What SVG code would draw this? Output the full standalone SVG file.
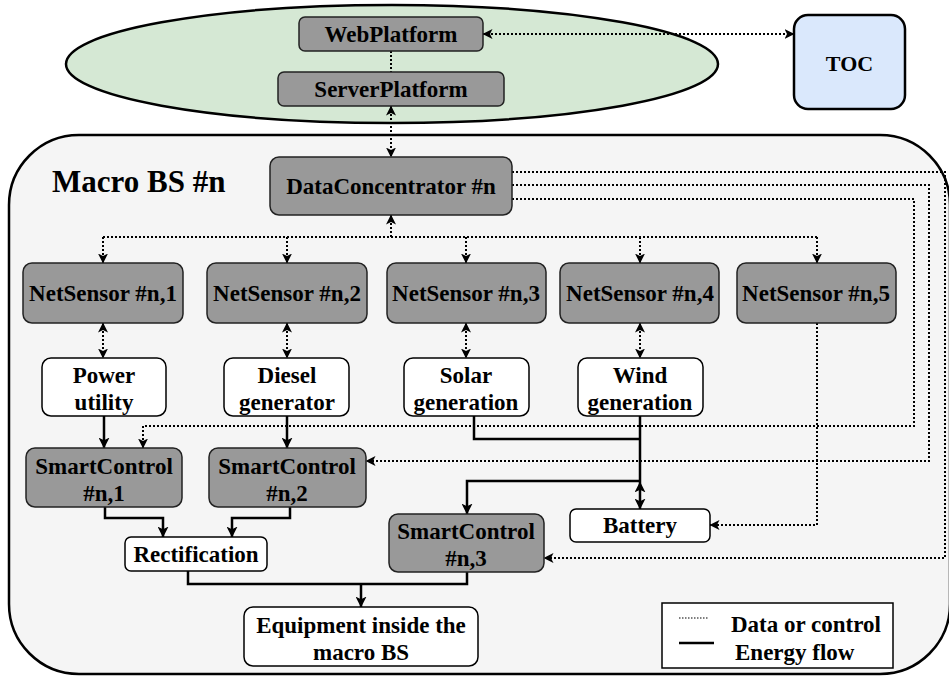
<svg xmlns="http://www.w3.org/2000/svg" width="949" height="677" viewBox="0 0 949 677">
<style>
text{font-family:"Liberation Serif","Times New Roman",serif;font-weight:bold;font-size:23px;text-anchor:middle;fill:#000}
.g{fill:#999999;stroke:#222;stroke-width:1.5}
.w{fill:#fff;stroke:#000;stroke-width:1.5}
.d{fill:none;stroke:#000;stroke-width:2;stroke-dasharray:2 2}
.e{fill:none;stroke:#000;stroke-width:2.5}
.da{marker-end:url(#ah)}
.db{marker-start:url(#ah);marker-end:url(#ah)}
.ea{marker-end:url(#eh)}
.eb{marker-start:url(#eh);marker-end:url(#eh)}
</style>
<defs>
<marker id="ah" viewBox="0 0 10 10" refX="9.5" refY="5" markerWidth="10" markerHeight="10" orient="auto-start-reverse" markerUnits="userSpaceOnUse"><path d="M0,0 L10,5 L0,10 L2.5,5 z" fill="#000"/></marker>
<marker id="eh" viewBox="0 0 10 10" refX="9.5" refY="5" markerWidth="11" markerHeight="11" orient="auto-start-reverse" markerUnits="userSpaceOnUse"><path d="M0,0 L10,5 L0,10 L2.5,5 z" fill="#000"/></marker>
</defs>
<g id="cloud"><ellipse cx="392" cy="64" rx="326" ry="59" fill="#d5e8d4" stroke="#000" stroke-width="2.5"/></g>
<g id="container"><rect x="9" y="135" width="941" height="539" rx="70" fill="#f5f5f5" stroke="#000" stroke-width="2.5"/><text x="52" y="192" style="text-anchor:start;font-size:31px">Macro BS #n</text></g>
<g id="connectors">
<path class="d" d="M391,51 V72"/>
<path class="d db" d="M483,34 H794"/>
<path class="d db" d="M391,106 V157"/>
<path class="d da" d="M391,237 V215"/>
<path class="d" d="M103,237 H817"/>
<path class="d da" d="M103,237 V263"/>
<path class="d da" d="M287,237 V263"/>
<path class="d da" d="M466,237 V263"/>
<path class="d da" d="M640,237 V263"/>
<path class="d da" d="M817,237 V263"/>
<path class="d db" d="M103,323 V358"/>
<path class="d db" d="M287,323 V358"/>
<path class="d db" d="M466,323 V358"/>
<path class="d db" d="M640,323 V358"/>
<path class="d da" d="M817,323 V525 H710"/>
<path class="d da" d="M512,172 H945 V558 H544"/>
<path class="d da" d="M512,185 H929 V461 H366"/>
<path class="d da" d="M512,199 H914 V426 H143 V448"/>
<path class="e ea" d="M104,416 V448"/>
<path class="e ea" d="M287,416 V448"/>
<path class="e ea" d="M105,507 V518 H163 V537"/>
<path class="e ea" d="M290,507 V518 H232 V537"/>
<path class="e" d="M474,416 V439 H640"/>
<path class="e" d="M640,416 V482"/>
<path class="e eb" d="M640,482 V509"/>
<path class="e ea" d="M640,481 H467 V514"/>
<path class="e" d="M188,571 V584 H467 V572"/>
<path class="e ea" d="M361,584 V607"/>
</g>
<g id="web"><rect class="g" x="299" y="17" width="184" height="34" rx="6"/><text x="391" y="42">WebPlatform</text></g>
<g id="server"><rect class="g" x="278" y="72" width="226" height="34" rx="6"/><text x="391" y="97">ServerPlatform</text></g>
<g id="toc"><rect x="794" y="15" width="111" height="94" rx="14" fill="#dae8fc" stroke="#000" stroke-width="2.5"/><text x="849.5" y="71" style="font-size:22px">TOC</text></g>
<g id="dc"><rect class="g" x="270" y="157" width="242" height="58" rx="9"/><text x="391" y="194">DataConcentrator #n</text></g>
<g id="ns1"><rect class="g" x="23" y="263" width="160" height="60" rx="9"/><text x="103" y="301">NetSensor #n,1</text></g>
<g id="ns2"><rect class="g" x="207" y="263" width="160" height="60" rx="9"/><text x="287" y="301">NetSensor #n,2</text></g>
<g id="ns3"><rect class="g" x="387" y="263" width="159" height="60" rx="9"/><text x="466" y="301">NetSensor #n,3</text></g>
<g id="ns4"><rect class="g" x="560" y="263" width="159" height="60" rx="9"/><text x="640" y="301">NetSensor #n,4</text></g>
<g id="ns5"><rect class="g" x="737" y="263" width="159" height="60" rx="9"/><text x="816" y="301">NetSensor #n,5</text></g>
<g id="power"><rect class="w" x="42" y="358" width="124" height="58" rx="9"/><text x="104" y="383">Power</text><text x="104" y="410">utility</text></g>
<g id="diesel"><rect class="w" x="224" y="358" width="125" height="58" rx="9"/><text x="287" y="383">Diesel</text><text x="287" y="410">generator</text></g>
<g id="solar"><rect class="w" x="404" y="358" width="125" height="58" rx="9"/><text x="466" y="383">Solar</text><text x="466" y="410">generation</text></g>
<g id="wind"><rect class="w" x="578" y="358" width="125" height="58" rx="9"/><text x="640" y="383">Wind</text><text x="640" y="410">generation</text></g>
<g id="sc1"><rect class="g" x="26" y="448" width="156" height="59" rx="9"/><text x="104" y="474">SmartControl</text><text x="104" y="501">#n,1</text></g>
<g id="sc2"><rect class="g" x="209" y="448" width="157" height="59" rx="9"/><text x="287" y="474">SmartControl</text><text x="287" y="501">#n,2</text></g>
<g id="battery"><rect class="w" x="570" y="509" width="140" height="33" rx="6"/><text x="640" y="533">Battery</text></g>
<g id="rect"><rect class="w" x="125" y="537" width="142" height="34" rx="6"/><text x="196" y="562">Rectification</text></g>
<g id="sc3"><rect class="g" x="389" y="514" width="155" height="58" rx="9"/><text x="466" y="539">SmartControl</text><text x="466" y="566">#n,3</text></g>
<g id="equip"><rect class="w" x="244" y="607" width="234" height="59" rx="9"/><text x="361" y="633">Equipment inside the</text><text x="361" y="660">macro BS</text></g>
<g id="legend"><rect class="w" x="662" y="603" width="231" height="65"/><path d="M679,618 H709" fill="none" stroke="#000" stroke-width="1.2" stroke-dasharray="1.5 1.5"/><path class="e" d="M679,643 H714"/><text x="731" y="632" style="text-anchor:start">Data or control</text><text x="735" y="660" style="text-anchor:start">Energy flow</text></g>
</svg>
